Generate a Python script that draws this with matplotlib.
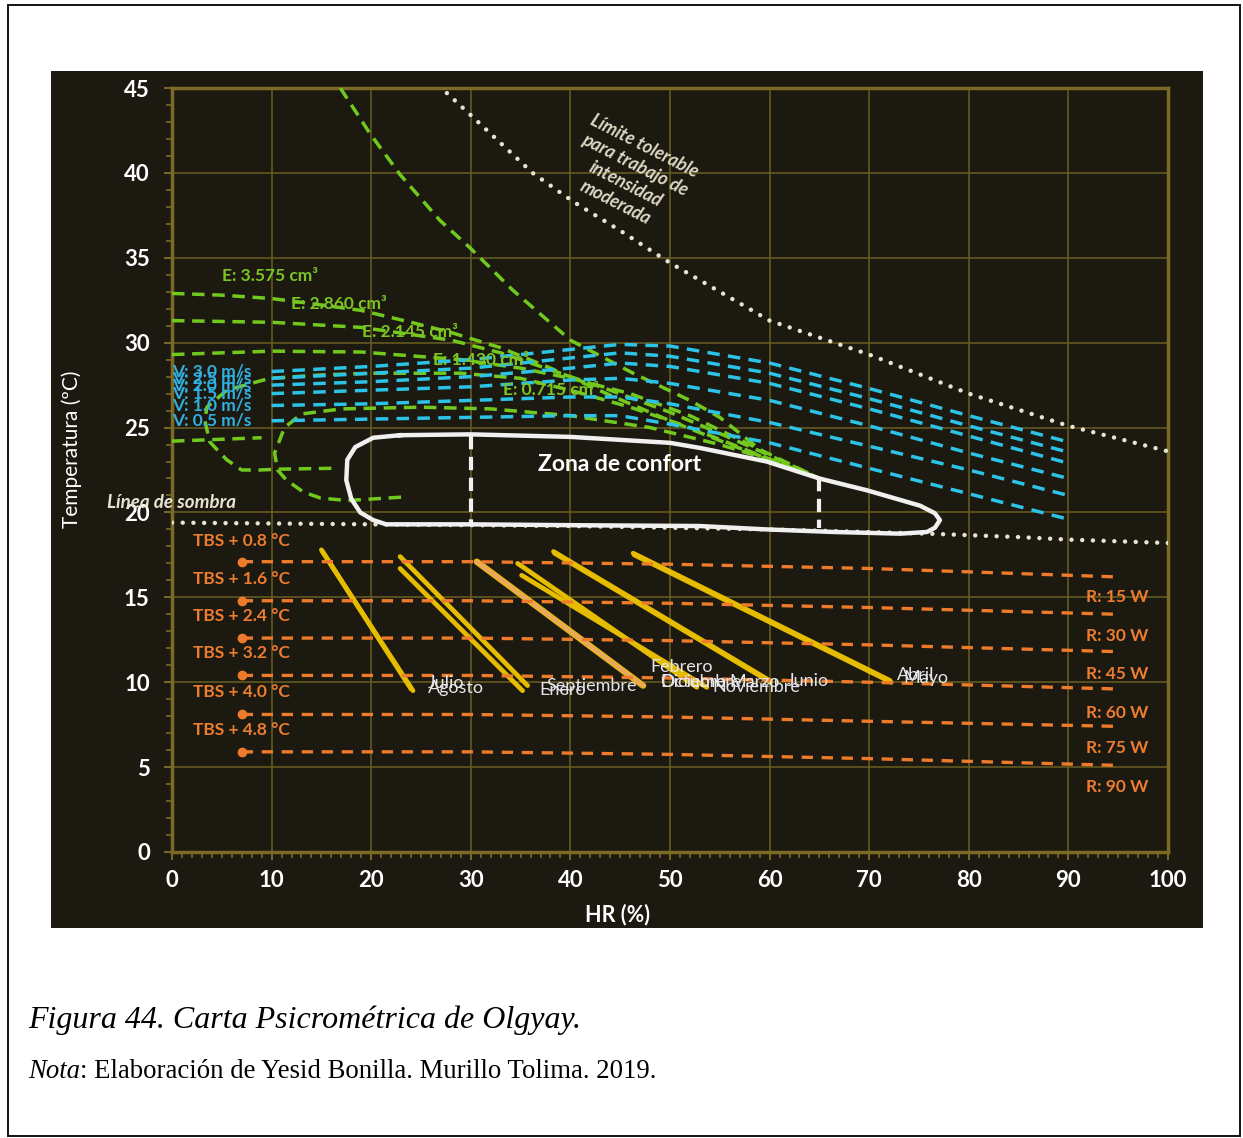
import numpy as np
import matplotlib.pyplot as plt
from matplotlib.patches import Rectangle
from matplotlib.ticker import MultipleLocator

plt.rcParams['font.family'] = ['Lato', 'DejaVu Sans']

# --- datos: humedad relativa (%) y temperatura (ºC) ---
limite_hr = [27.6, 30, 36.2, 40.3, 45, 50, 60, 70, 80, 90, 100]
limite_t = [44.7, 43.4, 40.0, 38.3, 36.6, 34.7, 31.3, 29.3, 27.0, 25.1, 23.6]

sombra_hr = [0, 20, 40, 60, 76, 85, 90, 100]
sombra_t = [19.4, 19.3, 19.2, 19.0, 18.75, 18.55, 18.4, 18.2]

confort_hr = [22.9, 30, 40, 50, 53, 59.7, 65, 69.8, 75.1, 76.6, 77.1, 76.6, 75.8,
              73.1, 66.4, 59.7, 53, 40, 30, 21.5, 20.2, 18.9, 18.0, 17.5, 17.6,
              18.4, 20.2, 22.9]
confort_t = [24.55, 24.6, 24.45, 24.1, 23.8, 23.0, 22.0, 21.3, 20.4, 19.95, 19.55,
             19.1, 18.85, 18.75, 18.85, 19.0, 19.2, 19.25, 19.3, 19.3, 19.55, 20.0,
             20.8, 21.9, 23.1, 23.85, 24.4, 24.55]
confort_div_hr = [30, 65]
confort_div_top = [24.5, 22.0]
confort_div_bot = [19.3, 19.1]

# velocidad del viento
viento_labels = ['V: 3.0 m/s', 'V: 2.5 m/s', 'V: 2.0 m/s', 'V: 1.5 m/s', 'V: 1.0 m/s', 'V: 0.5 m/s']
viento_hr = [10, 20, 30, 40, 45, 50, 60, 70, 80, 90]
v30 = [28.3, 28.6, 29.0, 29.6, 29.9, 29.8, 28.8, 27.3, 25.7, 24.15]
v25 = [27.9, 28.2, 28.5, 29.1, 29.4, 29.2, 28.2, 26.7, 25.1, 23.55]
v20 = [27.5, 27.7, 28.0, 28.5, 28.8, 28.6, 27.6, 26.1, 24.5, 22.9]
v15 = [27.0, 27.2, 27.4, 27.8, 27.9, 27.6, 26.6, 25.1, 23.5, 22.0]
v10 = [26.3, 26.4, 26.6, 26.8, 26.8, 26.4, 25.3, 23.9, 22.5, 21.0]
v05 = [25.4, 25.5, 25.6, 25.7, 25.7, 25.2, 24.1, 22.6, 21.1, 19.6]
viento_t = [v30, v25, v20, v15, v10, v05]

# evaporación
e_labels = ['E: 3.575 cm³', 'E: 2.860 cm³', 'E: 2.145 cm³', 'E: 1.430 cm³', 'E: 0.715 cm³']
e_label_hr = [5.0, 11.9, 19.1, 26.2, 33.2]
e_label_t = [33.9, 32.3, 30.6, 29.0, 27.2]

e3575_hr = [0, 5, 10, 14, 19, 24, 28, 33, 38, 44, 50, 56, 61, 65]
e3575_t = [32.9, 32.8, 32.6, 32.3, 31.9, 31.2, 30.6, 29.7, 28.5, 26.9, 25.4, 24.0, 22.9, 22.0]
e2860_hr = [0, 10, 19, 28, 33, 38, 44, 50, 56, 61, 65]
e2860_t = [31.3, 31.2, 30.9, 30.15, 29.4, 28.4, 27.2, 25.9, 24.4, 23.1, 22.0]
e2145_hr = [0, 10, 19, 29, 35, 40, 46, 52, 58, 65]
e2145_t = [29.3, 29.5, 29.45, 29.0, 28.5, 27.9, 27.0, 25.7, 24.0, 22.0]
e1430_hr = [16, 10.8, 8.8, 7, 5.5, 3.8, 3.3, 3.5, 5.5, 9.8, 15, 20, 29, 35, 40, 46, 52, 58, 65]
e1430_t = [22.6, 22.55, 22.5, 22.5, 23.1, 24.15, 25.4, 26.2, 27.2, 27.9, 28.1, 28.2, 28.2,
           27.9, 27.2, 26.2, 25.0, 23.6, 22.0]
e0715_hr = [23, 17.6, 14.9, 13.2, 11.5, 10.6, 10.3, 11.3, 13, 17, 25, 32, 40, 48, 55, 60, 65]
e0715_t = [20.9, 20.7, 20.85, 21.2, 21.9, 22.5, 23.5, 25.0, 25.8, 26.1, 26.2, 26.1, 25.7,
           25.0, 24.0, 23.1, 22.0]
e_corto_hr = [0, 9]
e_corto_t = [24.2, 24.4]
e_alta_hr = [16.9, 19.9, 22.9, 26.9, 29.9, 34.2, 40, 46.3, 52, 55, 59.5]
e_alta_t = [45, 42.3, 39.9, 37.2, 35.6, 33.1, 30.15, 28.2, 26.6, 25.6, 23.5]

# radiación
tbs_labels = ['TBS + 0.8 °C', 'TBS + 1.6 °C', 'TBS + 2.4 °C', 'TBS + 3.2 °C', 'TBS + 4.0 °C', 'TBS + 4.8 °C']
tbs_label_t = [18.3, 16.1, 13.9, 11.7, 9.4, 7.2]
r_labels = ['R: 15 W', 'R: 30 W', 'R: 45 W', 'R: 60 W', 'R: 75 W', 'R: 90 W']
r_label_t = [15.0, 12.7, 10.5, 8.2, 6.1, 3.8]
rad_hr = [7, 30, 50, 70, 95]
r15 = [17.1, 17.1, 16.95, 16.7, 16.2]
r30 = [14.8, 14.8, 14.65, 14.4, 14.0]
r45 = [12.6, 12.6, 12.45, 12.2, 11.8]
r60 = [10.4, 10.4, 10.25, 10.0, 9.6]
r75 = [8.1, 8.1, 7.95, 7.7, 7.4]
r90 = [5.9, 5.9, 5.75, 5.5, 5.1]
rad_t = [r15, r30, r45, r60, r75, r90]

# meses: (HR, T) inicio y fin
meses = ['Julio', 'Agosto', 'Enero', 'Septiembre', 'Marzo', 'Febrero',
         'Octubre', 'Diciembre', 'Noviembre', 'Junio', 'Abril', 'Mayo']
mes_hr0 = [15.1, 15.0, 22.9, 22.9, 30.6, 30.6, 34.7, 35.1, 38.3, 38.4, 46.3, 46.4]
mes_t0 = [17.7, 17.8, 17.4, 16.7, 17.1, 17.1, 17.0, 16.3, 17.7, 17.6, 17.6, 17.5]
mes_hr1 = [24.2, 24.0, 35.7, 35.2, 47.3, 47.3, 52.7, 53.7, 60.0, 60.1, 72.1, 72.2]
mes_t1 = [9.5, 9.6, 9.8, 9.5, 9.8, 9.8, 9.7, 9.7, 10.1, 10.0, 10.1, 10.0]
mes_lbl_hr = [25.7, 25.7, 36.9, 37.6, 56.0, 48.0, 49.0, 49.0, 54.3, 61.7, 72.8, 73.4]
mes_lbl_t = [9.95, 9.65, 9.55, 9.8, 10.0, 10.9, 10.0, 10.0, 9.7, 10.1, 10.4, 10.25]

fondo = '#1c1911'
oliva = '#7b6a26'
verde = '#72c91e'
cian = '#2cc3e6'
naranja = '#ee7b2c'
amarillo = '#e6bc00'

fig = plt.figure(figsize=(12.43, 11.38), dpi=100)
fig.patches.append(Rectangle((0.00644, 0.0018), 0.9912, 0.9938, transform=fig.transFigure,
                             fill=False, edgecolor='black', lw=1.3, zorder=-2))
fig.patches.append(Rectangle((0.04103, 0.18453), 0.9268, 0.7531, transform=fig.transFigure,
                             facecolor=fondo, edgecolor='none', zorder=-1))

ax = fig.add_axes([0.13837, 0.25132, 0.80129, 0.67135], facecolor=fondo)
ax.set_xlim(0, 100)
ax.set_ylim(0, 45)
ax.set_xticks(range(0, 101, 10))
ax.set_yticks(range(0, 46, 5))
ax.xaxis.set_minor_locator(MultipleLocator(1))
ax.yaxis.set_minor_locator(MultipleLocator(1))
ax.grid(True, which='major', color='#6b5d20', lw=1.1)
ax.set_axisbelow(True)
for s in ax.spines.values():
    s.set_color(oliva)
    s.set_linewidth(2.5)
ax.tick_params(which='both', direction='out', color=oliva, labelcolor='white', labelsize=16)
ax.tick_params(which='major', length=6, width=1.4)
ax.tick_params(which='minor', length=4, width=1.2)
ax.tick_params(axis='y', pad=10)
ax.tick_params(axis='x', pad=7)
plt.setp(ax.get_xticklabels() + ax.get_yticklabels(), fontweight='bold')
ax.set_xlabel('HR (%)', color='white', fontsize=15.5, fontweight='bold')
ax.set_ylabel('Temperatura (ºC)', color='white', fontsize=15)
ax.xaxis.set_label_coords(0.447, -0.067)
ax.yaxis.set_label_coords(-0.09, 0.527)

punteado = (0, (0.01, 2.4))

# límite tolerable y línea de sombra
ax.plot(limite_hr, limite_t, color='#e8e4d2', lw=3.2, ls=punteado, dash_capstyle='round', zorder=3)
ax.plot(sombra_hr, sombra_t, color='#e8e4d2', lw=3.2, ls=punteado, dash_capstyle='round', zorder=3)
ax.text(46.0, 39.9, 'Límite tolerable\npara trabajo de\nintensidad\nmoderada', color='#dcd8c4',
        fontsize=13, fontweight='bold', style='italic', rotation=-27, rotation_mode='anchor',
        ha='center', va='center', multialignment='center', linespacing=1.3)
ax.text(0, 20.6, 'Línea de sombra', color='#e8e4d2', fontsize=13.5, fontweight='bold',
        style='italic', ha='center', va='center', clip_on=False, zorder=6)

# evaporación
for hr, t in [(e3575_hr, e3575_t), (e2860_hr, e2860_t), (e2145_hr, e2145_t),
              (e1430_hr, e1430_t), (e0715_hr, e0715_t), (e_corto_hr, e_corto_t),
              (e_alta_hr, e_alta_t)]:
    ax.plot(hr, t, color=verde, lw=2.5, ls=(0, (3.6, 2.2)), zorder=3)
for lbl, x, y in zip(e_labels, e_label_hr, e_label_t):
    ax.text(x, y, lbl, color='#7cc424', fontsize=12.5, fontweight='bold', ha='left',
            va='center', zorder=6)

# viento
for t in viento_t:
    ax.plot(viento_hr, t, color=cian, lw=2.5, ls=(0, (3.6, 2.4)), zorder=4)
for lbl, t in zip(viento_labels, viento_t):
    ax.text(0, t[0], lbl, color='#30b0e0', fontsize=12.5, fontweight='bold', ha='left',
            va='center', zorder=6)

# zona de confort
ax.plot(confort_hr, confort_t, color='#f0f0ee', lw=3.2, solid_joinstyle='round', zorder=5)
for x, t0, t1 in zip(confort_div_hr, confort_div_top, confort_div_bot):
    ax.plot([x, x], [t0, t1], color='#f0f0ee', lw=3, ls=(0, (3.2, 1.8)), zorder=5)
ax.text(44.9, 22.8, 'Zona de confort', color='white', fontsize=16.5, fontweight='bold',
        ha='center', va='center', zorder=6)

# meses
for i, m in enumerate(meses):
    if m == 'Febrero':
        ax.plot([mes_hr0[i], mes_hr1[i]], [mes_t0[i], mes_t1[i]], color='#eaa85e',
                lw=3.0, solid_capstyle='round', zorder=4.6)
    elif m == 'Marzo':
        ax.plot([mes_hr0[i], mes_hr1[i]], [mes_t0[i], mes_t1[i]], color=amarillo,
                lw=4.6, solid_capstyle='round', zorder=4.5)
    else:
        ax.plot([mes_hr0[i], mes_hr1[i]], [mes_t0[i], mes_t1[i]], color=amarillo,
                lw=3.4, solid_capstyle='round', zorder=4.5)
for m, x, y in zip(meses, mes_lbl_hr, mes_lbl_t):
    ax.text(x, y, m, color='#e4e4ea', fontsize=13, ha='left', va='center', zorder=7)

# radiación
for t in rad_t:
    ax.plot(rad_hr, t, color=naranja, lw=2.4, ls=(0, (3.4, 2.6)), zorder=5)
    ax.plot(rad_hr[0], t[0], 'o', color=naranja, ms=6, zorder=5)
for lbl, t in zip(tbs_labels, tbs_label_t):
    ax.text(2.1, t, lbl, color='#ec7d30', fontsize=12.5, fontweight='bold', ha='left',
            va='center', zorder=6)
for lbl, t in zip(r_labels, r_label_t):
    ax.text(91.8, t, lbl, color='#ec7d30', fontsize=12.5, fontweight='bold', ha='left',
            va='center', zorder=6)

# pie de figura
fig.text(28 / 1243, 1 - 1020 / 1138, 'Figura 44. Carta Psicrométrica de Olgyay.',
         family='Liberation Serif', style='italic', fontsize=23, va='center', ha='left')
nota = fig.text(28 / 1243, 1 - 1071 / 1138, 'Nota', family='Liberation Serif', style='italic',
                fontsize=19.3, va='center', ha='left')
r = fig.canvas.get_renderer()
bb = nota.get_window_extent(renderer=r)
fig.text(bb.x1 / fig.bbox.width, 1 - 1071 / 1138,
         ': Elaboración de Yesid Bonilla. Murillo Tolima. 2019.',
         family='Liberation Serif', fontsize=19.3, va='center', ha='left')

fig.savefig('out.png', dpi=100)
